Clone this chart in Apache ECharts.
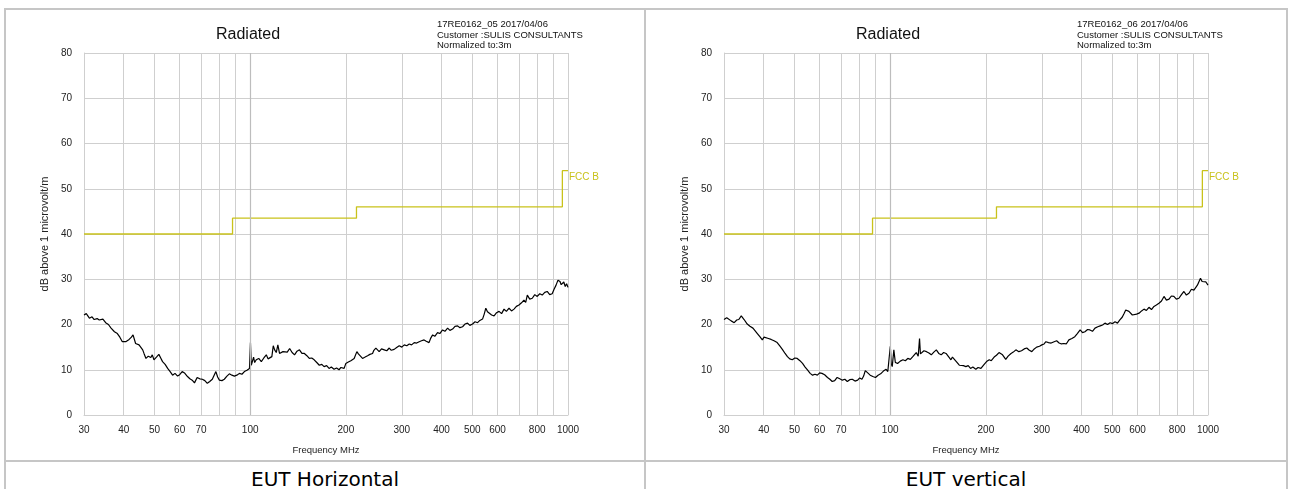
<!DOCTYPE html>
<html>
<head>
<meta charset="utf-8">
<title>Radiated</title>
<script src="https://cdn.jsdelivr.net/npm/echarts@6/dist/echarts.min.js"></script>
<style>
    body { margin: 0; background: #fff; }
    #page { position: relative; width: 1289px; height: 489px; overflow: hidden; }
    .rule { position: absolute; background: #c6c6c6; }
    .chart { position: absolute; top: 10px; height: 450px; }
    .caption { position: absolute; top: 466px; height: 27px; text-align: center; font-family: "DejaVu Sans", sans-serif; font-size: 20px; line-height: 27px; color: #000; }
</style>
</head>
<body>
<div id="page">
    <div class="rule" style="left:4px;top:8px;width:1284px;height:2px;"></div>
    <div class="rule" style="left:4px;top:460px;width:1284px;height:2px;"></div>
    <div class="rule" style="left:4px;top:8px;width:2px;height:481px;"></div>
    <div class="rule" style="left:644px;top:8px;width:2px;height:481px;"></div>
    <div class="rule" style="left:1286px;top:8px;width:2px;height:481px;"></div>
    <div id="chartH" class="chart" style="left:6px;width:638px;"></div>
    <div id="chartV" class="chart" style="left:646px;width:640px;"></div>
    <div class="caption" style="left:6px;width:638px;">EUT Horizontal</div>
    <div class="caption" style="left:646px;width:640px;">EUT vertical</div>
</div>
<script>
// frequency (MHz) / level (dB above 1 microvolt/m), horizontal polarisation
var freqH = [30, 30.5, 31.2, 31.8, 32.3, 33, 33.5, 34.4, 35.1, 35.8, 36.5, 37, 37.4, 38.2, 38.9, 39.6, 40.1, 40.6, 41.6, 42.3,
    42.8, 43.6, 44.2, 44.7, 45.3, 45.9, 46.4, 47, 47.8, 48.7, 49.2, 49.8, 50.7, 51.6, 52.3, 53, 54, 55, 56, 57,
    58, 59.1, 60, 61.1, 62.3, 63.5, 64.6, 65.7, 66.8, 68.1, 69.4, 70.7, 72, 73.3, 74.6, 76, 77, 78, 79, 80,
    81.5, 82.9, 84.5, 86, 87.6, 89.2, 90.8, 92.5, 94.2, 95.9, 97.7, 99.5, 100.2, 100.8, 101.5, 102.5, 103.3, 104.5, 106.4, 108.4,
    110.4, 112.4, 113.8, 115.2, 117, 118.2, 119.4, 120.8, 122.2, 123.7, 125.3, 126.8, 128.4, 130.8, 133.1, 135.5, 137.9, 140.4, 142.9, 145.5,
    148.1, 150.8, 153.5, 156.2, 159, 162, 165, 168, 170.8, 174, 177.1, 180, 183.6, 187, 190.4, 193, 195.2, 197.5, 200, 203.6,
    207.4, 212.4, 216.6, 219, 221.8, 225.7, 230, 234.1, 238, 242.7, 245, 248.6, 254.6, 259, 264.1, 269, 273.9, 278, 283.8, 289,
    294.4, 300, 305.4, 311, 316.6, 322, 328.2, 334, 340.3, 346, 352.6, 358, 365.4, 370, 375, 381, 388.6, 395, 403, 410,
    418, 425, 433.4, 441, 449.4, 457, 465.9, 474, 483, 491, 500.8, 510, 519.3, 528, 538.4, 545, 551.3, 558, 564.6, 575,
    585.4, 596, 606.9, 618, 629.2, 640, 652.3, 664, 676.2, 688, 701, 714, 726.8, 736, 744.7, 758, 772, 786, 800.3, 815,
    829.7, 845, 860.1, 876, 891.7, 904, 917.1, 930, 943.7, 952, 961, 970, 980.1, 990, 1000];
var levelH = [22.1, 22.4, 21.4, 21.7, 21.1, 21.3, 21.0, 21.2, 20.4, 20.0, 19.2, 18.9, 18.4, 18.0, 17.2, 16.2, 16.6, 16.2, 16.7, 17.2,
    17.7, 15.8, 16.0, 15.5, 15.1, 14.4, 13.5, 12.5, 13.0, 12.7, 13.3, 12.2, 12.8, 13.4, 12.6, 11.8, 11.2, 10.3, 9.6, 8.8,
    9.2, 8.6, 8.9, 9.6, 9.2, 8.5, 8.0, 7.7, 7.1, 8.3, 8.0, 7.9, 7.6, 7.0, 7.4, 7.9, 8.2, 9.6, 8.4, 7.7,
    7.6, 7.9, 8.6, 9.1, 8.8, 8.6, 8.8, 9.2, 9.0, 9.6, 9.9, 10.3, 16.0, 11.0, 10.7, 12.8, 11.6, 12.2, 12.5, 11.8,
    12.6, 13.3, 12.4, 12.2, 12.9, 15.3, 14.4, 13.8, 15.5, 13.6, 13.6, 14.0, 14.4, 13.9, 14.7, 13.8, 13.3, 14.1, 14.4, 13.6,
    13.6, 13.1, 12.5, 12.6, 12.2, 11.6, 11.0, 11.2, 10.7, 10.9, 10.3, 10.6, 10.1, 10.4, 10.0, 10.5, 10.7, 10.3, 11.4, 11.7,
    12.0, 12.5, 14.0, 13.5, 13.8, 12.5, 12.8, 13.1, 13.4, 13.6, 14.3, 14.8, 14.0, 14.6, 14.4, 14.2, 14.8, 14.3, 14.5, 14.9,
    15.3, 15.0, 15.5, 15.3, 15.7, 15.5, 16.0, 15.9, 16.2, 16.4, 16.6, 16.3, 16.0, 17.0, 17.7, 17.4, 18.2, 18.0, 18.8, 18.5,
    19.2, 18.7, 19.0, 19.6, 19.7, 19.3, 19.5, 20.1, 20.3, 19.8, 20.1, 20.6, 20.4, 20.9, 21.2, 22.3, 23.6, 22.8, 23.2, 22.1,
    21.9, 22.6, 22.9, 22.4, 23.4, 22.9, 23.6, 23.0, 23.4, 24.0, 24.3, 24.8, 25.4, 24.9, 26.5, 25.6, 25.8, 26.6, 26.2, 26.8,
    26.5, 27.1, 27.3, 26.6, 26.8, 27.8, 28.7, 29.8, 29.5, 28.8, 28.7, 29.4, 28.4, 29.0, 28.2];

// vertical polarisation
var freqV = [30, 30.6, 31, 31.6, 32.3, 32.9, 33.4, 34, 34.7, 35.5, 36.2, 37, 37.6, 38.2, 38.9, 39.6, 40.1, 40.6, 41.4, 42.2,
    43.1, 44.1, 45, 45.9, 46.7, 47.5, 48.3, 49.2, 50.1, 51, 52, 53, 54, 55, 56, 57, 58, 59, 60, 61,
    62.2, 63.5, 64.6, 65.7, 66.9, 68.1, 69.4, 70.7, 72, 73.3, 74.6, 76, 77.5, 79, 80.2, 81.5, 82.5, 83.5, 85, 86.5,
    88.2, 89.9, 91.6, 93.3, 95.2, 97.1, 98.3, 99.5, 100.1, 100.8, 101.5, 102.7, 103.8, 105.5, 107.6, 109.7, 111.6, 113.6, 115.7, 117.8,
    119.3, 120.8, 122.5, 123.7, 124.5, 125.3, 127.7, 130.1, 132.4, 134.7, 137.2, 139.7, 142.2, 144.7, 147.3, 149.9, 152.6, 155.3, 157, 159,
    162, 165, 167, 170, 173, 176, 179, 182, 186, 189, 193, 197, 201, 205, 208, 212.4, 216, 220, 225.7, 231,
    235, 240, 244, 248.6, 254, 259, 264, 269, 274, 279, 284, 289, 295, 300, 305, 309, 315, 321, 328, 334,
    340, 346, 352, 358, 362, 365, 373, 381, 388, 396, 403, 410, 418, 425, 433, 441, 450, 458, 466, 474,
    483, 492, 501, 510, 519, 528, 537, 545, 551, 558, 564, 571, 578, 585, 596, 607, 618, 629, 640, 652,
    664, 676, 688, 701, 714, 727, 740, 754, 767, 781, 795, 810, 825, 840, 855, 871, 887, 903, 914, 926,
    936, 947, 958, 970, 985, 1000];
var levelV = [21.1, 21.5, 21.4, 20.8, 20.4, 21.0, 21.1, 21.9, 21.1, 20.1, 19.6, 19.2, 18.6, 18.0, 17.3, 16.6, 17.2, 17.3, 16.9, 16.7,
    16.4, 16.0, 15.2, 14.4, 13.6, 12.9, 12.4, 12.2, 12.6, 12.5, 12.0, 11.4, 10.6, 9.9, 9.2, 8.8, 9.0, 8.8, 9.3, 9.2,
    8.9, 8.3, 7.9, 7.4, 7.6, 8.3, 8.0, 7.7, 7.9, 7.4, 7.8, 7.9, 7.5, 7.7, 8.2, 7.9, 8.6, 9.8, 9.3, 8.8,
    8.5, 8.3, 8.8, 9.1, 9.7, 10.1, 9.6, 9.9, 15.2, 11.2, 10.7, 14.4, 11.6, 11.4, 11.9, 12.2, 12.0, 12.5, 12.3, 12.9,
    13.2, 13.8, 13.0, 16.9, 13.5, 13.6, 14.2, 14.0, 13.7, 13.3, 13.9, 14.4, 13.6, 13.3, 13.8, 13.6, 12.9, 12.2, 12.8, 12.5,
    11.7, 11.0, 11.4, 10.9, 10.7, 10.9, 10.3, 10.6, 10.1, 10.5, 10.3, 11.1, 11.8, 12.2, 12.0, 12.8, 13.2, 13.8, 13.3, 12.3,
    13.0, 13.6, 13.9, 14.4, 14.0, 14.2, 14.6, 14.8, 14.3, 14.0, 14.6, 15.0, 15.2, 15.5, 15.7, 16.2, 16.0, 15.9, 16.2, 16.4,
    15.9, 15.7, 15.8, 15.7, 16.1, 16.6, 16.9, 17.3, 18.0, 18.8, 18.2, 18.4, 18.9, 18.8, 18.5, 19.2, 19.5, 19.7, 19.9, 20.3,
    20.0, 20.4, 20.2, 20.6, 20.3, 21.0, 21.6, 22.5, 23.2, 23.6, 22.9, 22.9, 22.1, 21.9, 22.3, 22.5, 23.0, 23.4, 23.1, 23.8,
    23.3, 24.0, 24.3, 24.7, 25.2, 26.2, 25.4, 25.6, 26.3, 26.2, 25.6, 25.8, 26.6, 27.3, 26.5, 26.9, 27.8, 27.6, 27.2, 28.7,
    29.0, 30.2, 29.5, 29.1, 29.4, 28.7];

// FCC class B limit, steps
var limitFreq = [30, 88, 216, 960, 1000];
var limitLevel = [40, 43.5, 46, 54, 54];

var xLabelList = [30, 40, 50, 60, 70, 100, 200, 300, 400, 500, 600, 800, 1000];
var xGridList = [30, 40, 50, 60, 70, 80, 90, 100, 200, 300, 400, 500, 600, 700, 800, 900, 1000];

var fontName = '"Liberation Sans", Arial, sans-serif';

function toPairs(xList, yList) {
    var out = [];
    for (var i = 0; i < xList.length; i++) {
        out.push([xList[i], yList[i]]);
    }
    return out;
}

function showRadiatedChart(container, runId, freqList, levelList) {
    var dom = document.getElementById(container);
    var myChart = echarts.init(dom, null, {renderer: 'canvas'});
    var option = {
        backgroundColor: '#fff',
        animation: false,
        textStyle: {fontFamily: fontName},
        grid: {left: 78, top: 43, width: 484, height: 362},
        graphic: [
            {
                type: 'text', x: 242, y: 25,
                style: {text: 'Radiated', fontSize: 16, fontFamily: fontName, fill: '#111',
                    textAlign: 'center', textVerticalAlign: 'middle'}
            },
            {
                type: 'text', x: 431, y: 9,
                style: {text: runId + ' 2017/04/06\nCustomer :SULIS CONSULTANTS\nNormalized to:3m',
                    fontSize: 9.5, lineHeight: 10.7, fontFamily: fontName, fill: '#111', textAlign: 'left'}
            }
        ],
        xAxis: {
            type: 'log',
            logBase: 10,
            min: 30,
            max: 1000,
            name: 'Frequency MHz',
            nameLocation: 'middle',
            nameGap: 30,
            nameTextStyle: {fontSize: 9.5, color: '#222'},
            axisLine: {show: true, lineStyle: {color: '#cfcfcf'}},
            axisTick: {show: false, customValues: xGridList},
            axisLabel: {
                customValues: xLabelList,
                fontSize: 10,
                color: '#222',
                margin: 10,
                formatter: function (v) { return String(Math.round(v)); }
            },
            splitLine: {show: true, lineStyle: {color: '#cfcfcf', width: 1}}
        },
        yAxis: {
            type: 'value',
            min: 0,
            max: 80,
            interval: 10,
            name: 'dB above 1 microvolt/m',
            nameLocation: 'middle',
            nameGap: 31,
            nameTextStyle: {fontSize: 11, color: '#222'},
            axisLine: {show: true, lineStyle: {color: '#cfcfcf'}},
            axisTick: {show: false},
            axisLabel: {fontSize: 10, color: '#222', margin: 12},
            splitLine: {show: true, lineStyle: {color: '#cfcfcf', width: 1}}
        },
        series: [
            {
                name: 'FCC B',
                type: 'line',
                step: 'end',
                data: toPairs(limitFreq, limitLevel),
                showSymbol: false,
                lineStyle: {color: '#c9c21b', width: 1.3},
                endLabel: {
                    show: true,
                    formatter: 'FCC B',
                    color: '#c9c21b',
                    fontSize: 10,
                    distance: 1,
                    offset: [0, 7]
                },
                markLine: {
                    silent: true,
                    symbol: 'none',
                    label: {show: false},
                    lineStyle: {color: '#bdbdbd', width: 1.2, type: 'solid'},
                    data: [{xAxis: 100}]
                },
                z: 3
            },
            {
                name: 'Measured',
                type: 'line',
                data: toPairs(freqList, levelList),
                showSymbol: false,
                lineStyle: {color: '#000', width: 1.2},
                z: 4
            }
        ]
    };
    myChart.setOption(option, true);
}

showRadiatedChart('chartH', '17RE0162_05', freqH, levelH);
showRadiatedChart('chartV', '17RE0162_06', freqV, levelV);
</script>
</body>
</html>
